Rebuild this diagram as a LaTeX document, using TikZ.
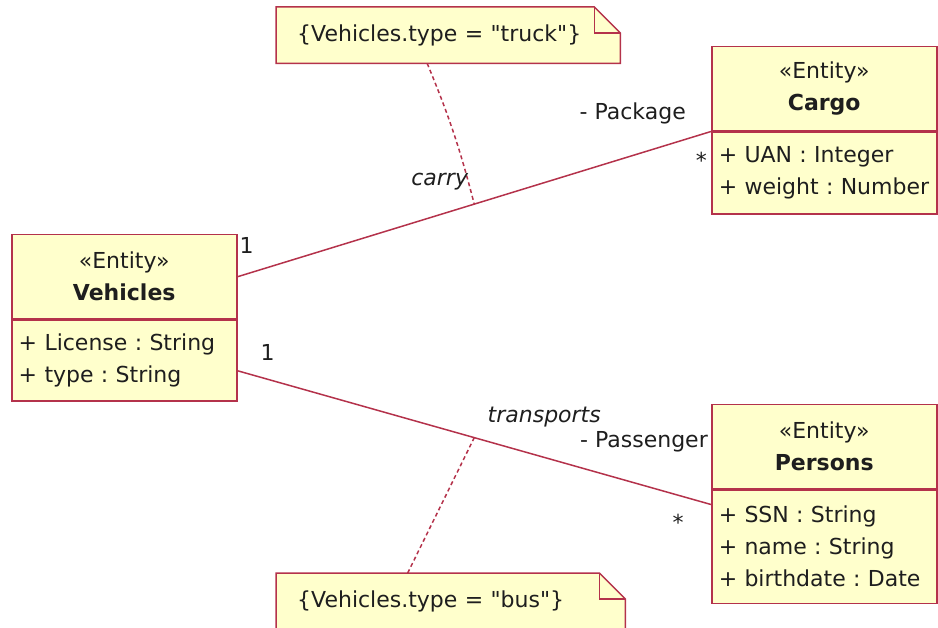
\documentclass[tikz,border=0pt]{standalone}
\usepackage{fontspec}
\setmainfont{DejaVu Sans}
\usetikzlibrary{positioning,calc,backgrounds}
\definecolor{umlred}{RGB}{180,50,75}
\definecolor{umlfill}{RGB}{255,255,204}
\definecolor{umltext}{RGB}{30,30,30}
\frenchspacing

\begin{document}
\begin{tikzpicture}[x=1pt, y=-1pt,
    font=\fontsize{22}{32}\selectfont, text=umltext,
    head/.style={draw=umlred, fill=umlfill, line width=1.5pt, inner xsep=7pt, inner ysep=0pt,
                 minimum height=84pt, text width=211pt, align=center},
    attrs/.style={draw=umlred, fill=umlfill, line width=1.5pt, inner xsep=7pt, inner ysep=0pt,
                  text width=211pt, align=left},
    notebox/.style={inner xsep=21pt, inner ysep=0pt, minimum height=56pt, text width=302pt, align=left},
    notefill/.style={draw=umlred, fill=umlfill, line width=1.5pt},
    assoc/.style={umlred, line width=1.5pt},
    link/.style={umlred, line width=1.5pt, dash pattern=on 4pt off 3pt},
    lbl/.style={inner sep=0pt},
    rolename/.style={inner sep=0pt, font=\fontsize{22}{32}\selectfont\itshape}
]
    % keep the page at the size of the reference
    \clip (0,0) rectangle (938,628);

    % classes
    \node[head, anchor=north west] (veh) at (11,234) {«Entity»\\\textbf{Vehicles}};
    \node[attrs, minimum height=81pt, below=0pt of veh] (vehatt) {+ License : String\\+ type : String};

    \node[head, anchor=north west] (cargo) at (711,46) {«Entity»\\\textbf{Cargo}};
    \node[attrs, minimum height=82pt, below=0pt of cargo] (cargoatt) {+ UAN : Integer\\+ weight : Number};

    \node[head, anchor=north west] (pers) at (711,404) {«Entity»\\\textbf{Persons}};
    \node[attrs, minimum height=113pt, below=0pt of pers] (persatt) {+ SSN : String\\+ name : String\\+ birthdate : Date};

    % notes
    \node[notebox, anchor=north west] (truck) at (276,7) {\{Vehicles.type = \textquotedbl truck\textquotedbl\}};
    \node[notebox, anchor=north west, text width=307pt] (bus) at (276,573) {\{Vehicles.type = \textquotedbl bus\textquotedbl\}};
    \begin{scope}[on background layer]
        \foreach \n in {truck,bus} {
            \draw[notefill] (\n.south west) -- (\n.north west) -- ([xshift=-26pt]\n.north east)
                -- ([yshift=-26pt]\n.north east) -- (\n.south east) -- cycle;
            \draw[notefill, fill=none] ([xshift=-26pt]\n.north east) |- ([yshift=-26pt]\n.north east);
        }
    \end{scope}

    % associations
    \draw[assoc] (veh.east) -- (cargo.south west)
        coordinate[pos=0.5] (carrymid);
    \draw[assoc] ([yshift=-10pt]vehatt.east) -- ([yshift=-15pt]persatt.north west)
        coordinate[pos=0.5] (transmid);

    % constraint links
    \draw[link] ([xshift=-21pt]truck.south) to[bend left=4] (carrymid);
    \draw[link] ([xshift=-43pt]bus.north) -- (transmid);

    % ends and names
    \node[lbl, anchor=north west] (carryone) at ([xshift=2pt, yshift=-3pt]veh.north east) {1};
    \node[lbl, anchor=east] (package) at ([xshift=-25pt, yshift=18pt]cargo.south west) {- Package};
    \node[lbl, anchor=east] (carrymany) at ([xshift=-4pt, yshift=-29pt]cargo.south west) {*};
    \node[rolename, anchor=east] (carry) at ([xshift=-6pt, yshift=22pt]carrymid) {carry};

    \node[lbl] (transone) at ([xshift=30pt, yshift=-33pt]vehatt.north east) {1};
    \node[rolename] (transports) at ([xshift=70pt, yshift=21pt]transmid) {transports};
    \node[lbl, anchor=east] (passenger) at ([xshift=-3pt, yshift=5pt]pers.west) {- Passenger};
    \node[lbl] (transmany) at ([xshift=-33pt, yshift=-33pt]persatt.north west) {*};
\end{tikzpicture}
\end{document}
